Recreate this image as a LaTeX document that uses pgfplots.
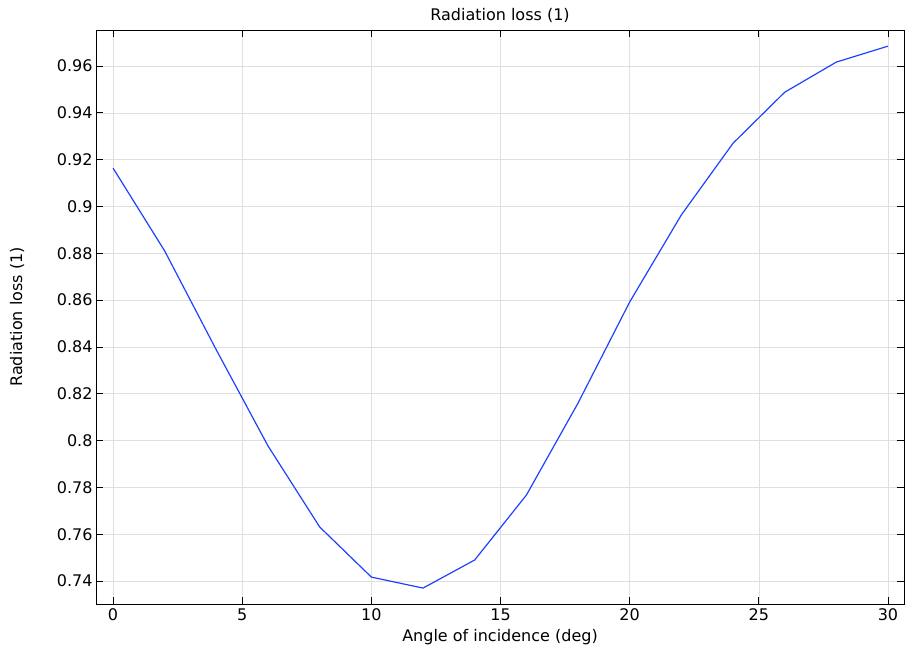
\documentclass[border=0pt]{standalone}
\usepackage{pgfplots}
\pgfplotsset{compat=1.18}
\usepackage{fontspec}
\setmainfont{DejaVu Sans}
\definecolor{linecol}{RGB}{30,65,255}
\begin{document}
\begin{tikzpicture}
\path[use as bounding box] (-96pt,-45pt) rectangle (809pt,604pt);
\begin{axis}[
  at={(0,0)}, anchor=south west,
  scale only axis, width=808pt, height=574pt,
  xmin=-0.66, xmax=30.62, ymin=0.7302, ymax=0.9754,
  xtick={0,5,...,30},
  ytick={0.74,0.76,0.78,0.8,0.82,0.84,0.86,0.88,0.9,0.92,0.94,0.96},
  yticklabels={0.74,0.76,0.78,0.8,0.82,0.84,0.86,0.88,0.9,0.92,0.94,0.96},
  /pgf/number format/assume math mode=true,
  tick align=inside, major tick length=7pt,
  tick style={black, line width=0.8pt},
  axis line style={black, line width=0.9pt},
  grid=major, major grid style={gray!25, line width=0.6pt},
  title={Radiation loss (1)},
  title style={at={(axis description cs:0.5,1.0156)}, anchor=center},
  xlabel={Angle of incidence (deg)},
  xlabel style={at={(axis description cs:0.5,-0.0575)}, anchor=center},
  ylabel={Radiation loss (1)},
  ylabel style={at={(axis description cs:-0.0978,0.5)}, anchor=center, rotate=0},
  xticklabel style={font=\fontsize{16}{19}\selectfont, yshift=-1pt},
  yticklabel style={font=\fontsize{16}{19}\selectfont},
  label style={font=\fontsize{16}{19}\selectfont},
  title style={font=\fontsize{16}{19}\selectfont},
]
\addplot[linecol, line width=1.2pt] coordinates {
(0,0.9164) (2,0.8810) (4,0.8387) (6,0.7977) (8,0.7631) (10,0.7417)
(12,0.7370) (14,0.7490) (16,0.7767) (18,0.8160) (20,0.8592)
(22,0.8964) (24,0.9270) (26,0.9488) (28,0.9617) (30,0.9685)
};
\end{axis}
\end{tikzpicture}
\end{document}
